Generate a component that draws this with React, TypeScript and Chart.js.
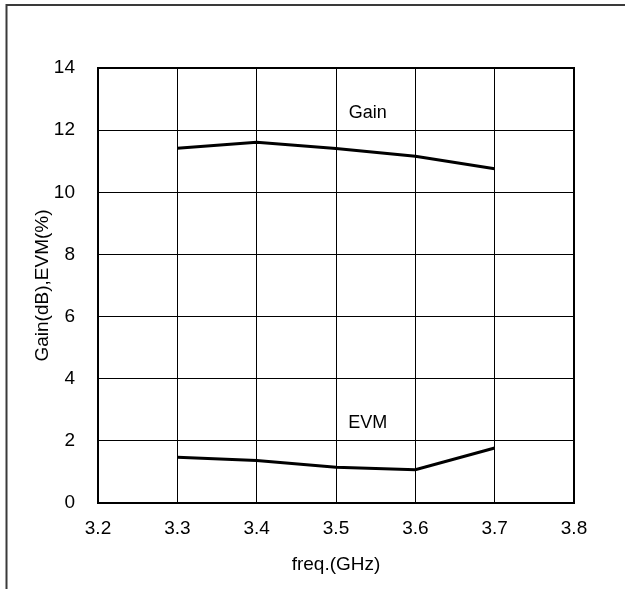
import React, { useEffect, useRef } from "react";
import { Chart, registerables } from "chart.js";

Chart.register(...registerables);

const freqs = [3.3, 3.4, 3.5, 3.6, 3.7];
const gainValues = [11.42, 11.61, 11.41, 11.16, 10.76];
const evmValues = [1.47, 1.37, 1.15, 1.07, 1.77];
const annotationTexts = ["Gain", "EVM"];
const annotationX = [3.54, 3.54];
const annotationY = [12.4, 2.4];
const xTitle = "freq.(GHz)";
const yTitle = "Gain(dB),EVM(%)";

const FONT = "'Liberation Sans', Arial, sans-serif";

const framePlugin = {
  id: "frameAndLabels",
  beforeDraw(chart: any) {
    const ctx = chart.ctx;
    ctx.save();
    ctx.strokeStyle = "#3a3a3a";
    ctx.lineWidth = 2;
    ctx.beginPath();
    ctx.moveTo(6.5, chart.height);
    ctx.lineTo(6.5, 5);
    ctx.lineTo(chart.width, 5);
    ctx.stroke();
    ctx.restore();
  },
  afterDraw(chart: any) {
    const ctx = chart.ctx;
    const a = chart.chartArea;
    ctx.save();
    ctx.strokeStyle = "#000";
    ctx.lineWidth = 2;
    ctx.strokeRect(a.left, a.top, a.right - a.left, a.bottom - a.top);
    ctx.fillStyle = "#000";
    ctx.font = "18px " + FONT;
    ctx.textAlign = "center";
    ctx.textBaseline = "alphabetic";
    const xs = chart.scales.x;
    const ys = chart.scales.y;
    annotationTexts.forEach((t, i) => {
      ctx.fillText(t, xs.getPixelForValue(annotationX[i]), ys.getPixelForValue(annotationY[i]));
    });
    ctx.restore();
  },
};

export default function App() {
  const ref = useRef<HTMLCanvasElement>(null);
  useEffect(() => {
    if (!ref.current) return;
    const chart = new Chart(ref.current, {
      type: "line",
      data: {
        datasets: [
          {
            label: "Gain",
            data: freqs.map((f, i) => ({ x: f, y: gainValues[i] })),
            borderColor: "#000",
            borderWidth: 3,
            pointRadius: 0,
            tension: 0,
          },
          {
            label: "EVM",
            data: freqs.map((f, i) => ({ x: f, y: evmValues[i] })),
            borderColor: "#000",
            borderWidth: 3,
            pointRadius: 0,
            tension: 0,
          },
        ],
      },
      options: {
        responsive: false,
        animation: false,
        layout: { padding: { top: 68, right: 51, left: 31, bottom: 13 } },
        plugins: { legend: { display: false }, tooltip: { enabled: false } },
        scales: {
          x: {
            type: "linear",
            min: 3.2,
            max: 3.8,
            afterFit: (s: any) => {
              s.height = 73;
            },
            ticks: {
              stepSize: 0.1,
              padding: 14,
              color: "#000",
              font: { size: 19, family: FONT },
              callback: (v: any) => Number(v).toFixed(1),
            },
            grid: { color: "#000", lineWidth: 1, drawTicks: false },
            border: { display: false },
            title: {
              display: true,
              text: xTitle,
              color: "#000",
              font: { size: 19, family: FONT },
              padding: { top: 4, bottom: 0 },
            },
          },
          y: {
            min: 0,
            max: 14,
            afterFit: (s: any) => {
              s.width = 67;
            },
            ticks: {
              stepSize: 2,
              padding: 23,
              color: "#000",
              font: { size: 19, family: FONT },
            },
            grid: { color: "#000", lineWidth: 1, drawTicks: false },
            border: { display: false },
            title: {
              display: true,
              text: yTitle,
              color: "#000",
              font: { size: 19, family: FONT },
              padding: { top: 0, bottom: 0 },
            },
          },
        },
      },
      plugins: [framePlugin],
    });
    return () => chart.destroy();
  }, []);
  return (
    <div style={{ position: "absolute", left: 0, top: 0, width: 625, height: 589, background: "#fff" }}>
      <canvas ref={ref} width={625} height={589} />
    </div>
  );
}
